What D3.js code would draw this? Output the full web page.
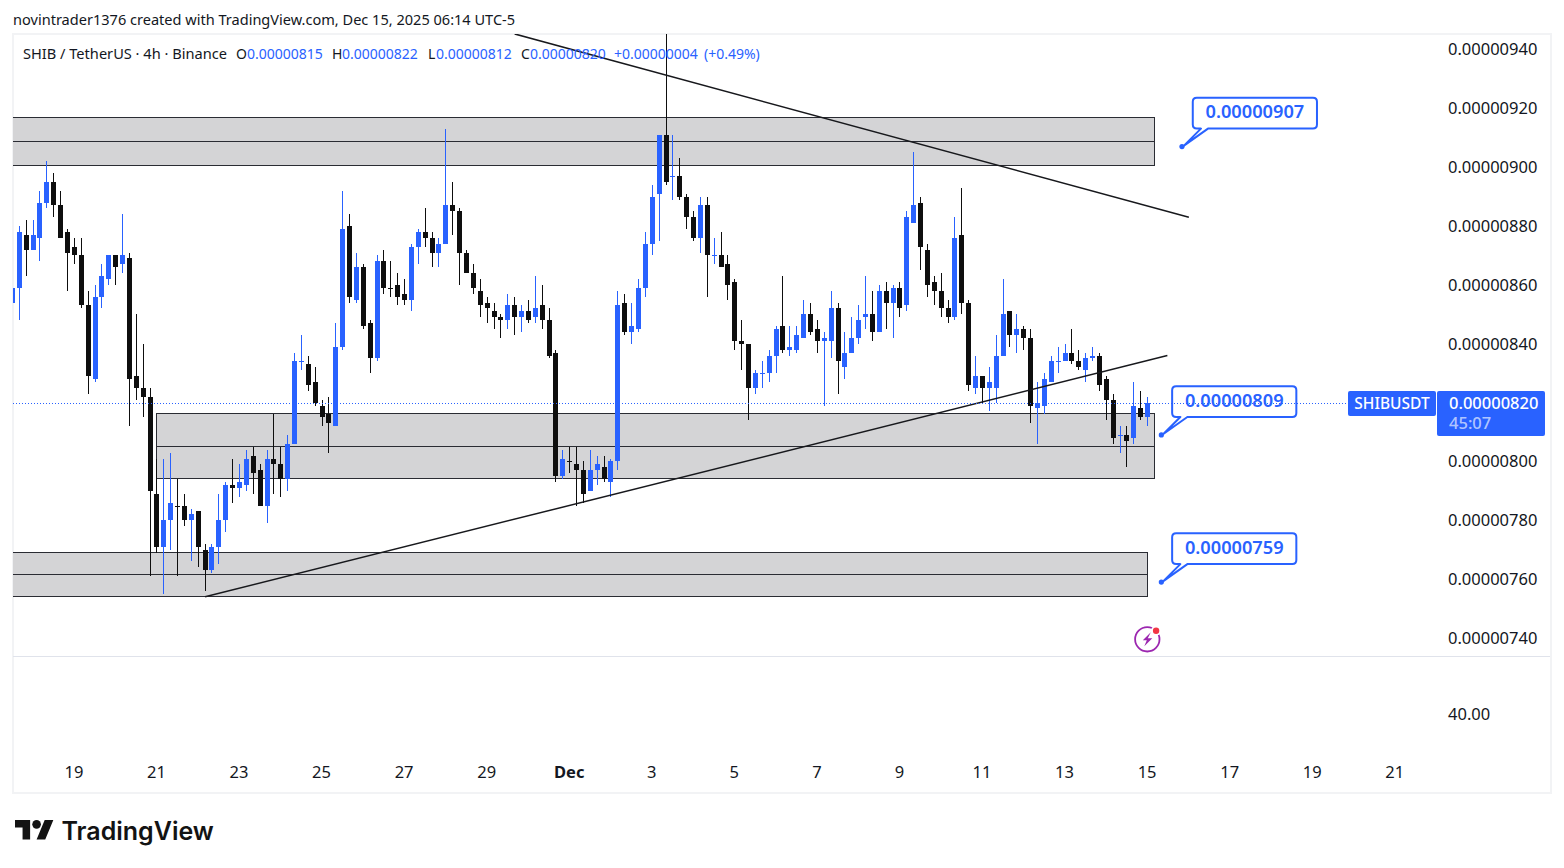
<!DOCTYPE html>
<html>
<head>
<meta charset="utf-8">
<script src="https://cdn.jsdelivr.net/npm/d3@7/dist/d3.min.js"></script>
<style>
  html, body { margin: 0; padding: 0; background: #fff; }
  svg { display: block; }
  text { font-family: "Noto Sans", sans-serif; }
</style>
</head>
<body>
<svg id="chart" width="1564" height="868"></svg>
<script>
// SHIB/USDT 4h candles, prices in units of 0.00000001
const opens = [
  854,859,877,872,876,888,895,887,878,873,
  870,853,828,856,862,870,867,869,829,825,
  822,789,771,780,785,785,780,783,770,763,
  771,780,792,791,792,802,797,785,801,799,
  794,806,834,833,827,819,816,812,839,880,
  855,866,847,835,868,859,860,857,855,873,
  878,876,871,874,887,885,871,864,858,854,
  851,849,848,853,849,851,849,853,848,837,
  795,800,799,797,790,797,798,793,800,854,
  844,845,859,874,891,911,897,897,890,883,
  876,887,870,870,867,861,841,840,825,830,
  830,836,846,838,838,842,850,845,841,841,
  852,832,837,842,849,850,844,858,854,859,
  853,881,888,872,861,858,852,849,877,854,
  825,829,825,825,836,851,843,845,842,818,
  819,827,834,834,837,834,831,835,836,828,
  821,809,809,808,818,815];
const closes = [
  859,878,872,877,888,895,887,876,871,870,
  853,829,856,863,870,866,870,828,825,822,
  790,771,780,786,784.9,780,782,771,763,771,
  780,792,791,793,801,796,785,801,799,794,
  806,834,834.1,826,820,815,813,839,879,856,
  866,846,835,868,859,858.9,856,855,873,878,
  876,871,874,887,885,871,864,859,853,852,
  849,848,853,849,851,848,852,848,836,795,
  801,799.9,797,789,797,799,794,800,853,844,
  846,859,874,890,911,895,897.1,890,883,876,
  887,870,870.1,866,860,841,840,825,830,830.1,
  836,845,838,839,843,850,844,841,842,852,
  834,837,842,848,850,844,858,854,859,852,
  883,887,873,860,858,852,849,876,854,826,
  829,825,827,836,850,843,845,842,819,820,
  828,834,834.1,837,834,832,835,836,826,821,
  808,809.1,807,819,815,820];
const highs = [
  859,880,882,882,892,902,898,892,879,876,
  876,858,860,867,870,870,884,871,850,840,
  825,801,801,803,794,789,784,783,772,772,
  789,793,801,799,804,805,799,804,816,805,
  809,837,843,836,832,821,822,847,892,884,
  871,867,848,870,872,868,864,862,874,879,
  886,878,876,913,895,886,872,867,862,856,
  854,850,857,856,853,855,863,860,852,838,
  804,805,805,800,804,802,802,801,858,857,
  854,862,878,894,911,950,911,903,891,885,
  890,890,876,878,870,862,848,840,831,834,
  838,846,863,846,846,855,854,848,844,858,
  854,844,849,853,863,858,860,861,860,861,
  885,905,890,874,863,864,855,883,893,855,
  836,829,832,843,862,851,850,846,845,827,
  830,836,839,840,845,838,837,839,837,829,
  823,812,812,827,824,822];
const lows = [
  854,848,863,872,868,886,883,876,858,867,
  852,823,827,852,860,860,864,812,821,815,
  761,769,755,770,761,778,766,764,756,762,
  765,776,786,788,790,789,785,779,789,788,
  790,806,831,824,819,812,803,812,838,854,
  854,845,830,834,857,856,853,853,851,867,
  873,866,866,874,877,860,864,857,849,847,
  845,842,845,843,844,847,847,845,835,793,
  794,796,785,786,790,792,793,788,797,843,
  840,844,856,870,875,894,889,889,879,875,
  871,856,867,866,855,838,831,814,823,825,
  827,830,837,836,837,842,843,837,819,835,
  823,828,837,840,845,841,844,845,842,849,
  851,881,865,856,853,849,847,848,850,824,
  823,820,817,820,836,839,837,838,813,806,
  816,827,830,834,833,831,827,834,824,814,
  806,803,798,806,814,812];

const priceTicks = [940,920,900,880,860,840,820,800,780,760,740];
const dateTicks = ["2025-11-19","2025-11-21","2025-11-23","2025-11-25","2025-11-27","2025-11-29",
                   "2025-12-01","2025-12-03","2025-12-05","2025-12-07","2025-12-09","2025-12-11",
                   "2025-12-13","2025-12-15","2025-12-17","2025-12-19","2025-12-21"].map(d => new Date(d + "T00:00Z"));

// Supply/demand zones: top, middle and bottom price with their time span
const zoneFrom = ["2025-11-10T00:00Z","2025-11-21T00:00Z","2025-11-10T00:00Z"].map(d => new Date(d));
const zoneTo   = ["2025-12-15T04:00Z","2025-12-15T04:00Z","2025-12-15T00:00Z"].map(d => new Date(d));
const zoneTop  = [917,816.5,769.2];
const zoneMid  = [909,805.2,761.8];
const zoneLow  = [900.7,794.4,754.3];

// Trend lines
const trendTimes  = [["2025-11-29T16:00Z","2025-12-16T00:00Z"],["2025-11-22T04:00Z","2025-12-15T11:30Z"]];
const trendPrices = [[945.3,883],[754,836]];

// Price callouts
const calloutTimes  = ["2025-12-15T20:00Z","2025-12-15T08:00Z","2025-12-15T08:00Z"].map(d => new Date(d));
const calloutPrices = [907,809,759];

const lastOpen = 815, lastHigh = 822, lastLow = 812, lastClose = 820, lastChange = 4;
const unit = 1e-8;
const fmt = p => (p * unit).toFixed(8);

const BLUE = "#2962ff", INK = "#131722", CANDLE_DARK = "#0e0e0e";
const lastBar = new Date("2025-12-15T00:00Z");
const times = opens.map((_, i) => d3.utcHour.offset(lastBar, -4 * (opens.length - 1 - i)));

const x = d3.scaleUtc().domain([dateTicks[0], dateTicks[dateTicks.length - 1]]).range([74.38, 1395.24]);
const y = d3.scaleLinear().domain([940, 740]).range([49.5, 638]);
const yLower = d3.scaleLinear().domain([100, 0]).range([657, 752]);

const svg = d3.select("#chart");
svg.append("defs").append("clipPath").attr("id", "pane")
  .append("rect").attr("x", 13).attr("y", 34).attr("width", 1537).attr("height", 622);

// Outer frame and pane separator
svg.append("rect").attr("x", 13).attr("y", 34).attr("width", 1538).attr("height", 759)
  .attr("fill", "#fff").attr("stroke", "#f2f3f5").attr("stroke-width", 2);
svg.append("rect").attr("x", 13).attr("y", 656).attr("width", 1537).attr("height", 1).attr("fill", "#e0e3eb");

const pane = svg.append("g").attr("clip-path", "url(#pane)");

// Zones
const zones = pane.append("g").attr("shape-rendering", "crispEdges");
zoneTop.forEach((top, i) => {
  const x0 = Math.floor(x(zoneFrom[i])), x1 = Math.floor(x(zoneTo[i]));
  const yt = Math.round(y(top)) + .5, ym = Math.round(y(zoneMid[i])) + .5, yb = Math.round(y(zoneLow[i])) + .5;
  zones.append("rect").attr("x", x0 + .5).attr("y", yt).attr("width", x1 - x0).attr("height", yb - yt)
    .attr("fill", "#d4d4d6").attr("stroke", "#2a2c33").attr("stroke-width", 1);
  zones.append("line").attr("x1", x0).attr("x2", x1).attr("y1", ym).attr("y2", ym)
    .attr("stroke", "#2a2c33").attr("stroke-width", 1);
});

// Candles
const candles = pane.append("g").attr("shape-rendering", "crispEdges");
const colOf = i => Math.floor(x(times[i]));
const colour = i => closes[i] >= opens[i] ? BLUE : CANDLE_DARK;
candles.selectAll("rect.wick").data(d3.range(opens.length)).join("rect").attr("class", "wick")
  .attr("x", colOf).attr("width", 1)
  .attr("y", i => Math.round(y(highs[i])))
  .attr("height", i => Math.max(1, Math.round(y(lows[i])) - Math.round(y(highs[i]))))
  .attr("fill", colour);
candles.selectAll("rect.body").data(d3.range(opens.length)).join("rect").attr("class", "body")
  .attr("x", i => colOf(i) - 2).attr("width", 5)
  .attr("y", i => Math.round(y(Math.max(opens[i], closes[i]))))
  .attr("height", i => Math.max(1, Math.round(y(Math.min(opens[i], closes[i]))) - Math.round(y(Math.max(opens[i], closes[i])))))
  .attr("fill", colour);

// Trend lines
trendTimes.forEach((t, i) => {
  pane.append("line")
    .attr("x1", x(new Date(t[0]))).attr("y1", y(trendPrices[i][0]))
    .attr("x2", x(new Date(t[1]))).attr("y2", y(trendPrices[i][1]))
    .attr("stroke", "#17181c").attr("stroke-width", 1.5);
});

// Callouts: speech-bubble box anchored on a price point
const callouts = svg.append("g");
calloutPrices.forEach((p, i) => {
  const tx = x(calloutTimes[i]), ty = y(p);
  const l = tx + 10.8, r = tx + 135, t = ty - 48.8, b = ty - 18, c = 4;
  const path = `M${l + c},${t} H${r - c} Q${r},${t} ${r},${t + c} V${b - c} Q${r},${b} ${r - c},${b}`
    + ` H${tx + 26} L${tx + 2},${ty - 1} L${tx + 19},${b} H${l + c} Q${l},${b} ${l},${b - c} V${t + c} Q${l},${t} ${l + c},${t} Z`;
  callouts.append("path").attr("d", path).attr("fill", "#fff").attr("stroke", BLUE).attr("stroke-width", 2)
    .attr("stroke-linejoin", "round");
  callouts.append("circle").attr("cx", tx).attr("cy", ty).attr("r", 2.6).attr("fill", BLUE);
  callouts.append("text").attr("x", (l + r) / 2).attr("y", (t + b) / 2 - 2)
    .attr("text-anchor", "middle").attr("dominant-baseline", "central")
    .attr("fill", BLUE).attr("font-size", 18.2).attr("font-weight", 600).text(fmt(p));
});

// Last-price dotted line
svg.append("line").attr("x1", 13).attr("x2", 1348).attr("y1", Math.round(y(lastClose)) + .5).attr("y2", Math.round(y(lastClose)) + .5)
  .attr("stroke", BLUE).attr("stroke-width", 1).attr("stroke-dasharray", "1 2").attr("shape-rendering", "crispEdges");

// Price axis
const priceAxis = d3.axisRight(y).tickValues(priceTicks).tickSize(0).tickPadding(0).tickFormat(fmt);
const gPrice = svg.append("g").attr("transform", "translate(1448,-0.5)").call(priceAxis);
gPrice.select(".domain").remove();
gPrice.selectAll("text").attr("fill", INK).attr("font-size", 16.5).attr("dy", "0.35em")
  .attr("font-family", '"Noto Sans", sans-serif');

const lowerAxis = d3.axisRight(yLower).tickValues([40]).tickSize(0).tickPadding(0).tickFormat(d3.format(".2f"));
const gLower = svg.append("g").attr("transform", "translate(1448,0)").call(lowerAxis);
gLower.select(".domain").remove();
gLower.selectAll("text").attr("fill", INK).attr("font-size", 16.5).attr("dy", "0.35em")
  .attr("font-family", '"Noto Sans", sans-serif');

// Time axis
const timeAxis = d3.axisBottom(x).tickValues(dateTicks).tickSize(0).tickPadding(0)
  .tickFormat(d => d.getUTCDate() === 1 ? "Dec" : d3.utcFormat("%e")(d).trim());
const gTime = svg.append("g").attr("transform", "translate(-1,772)").call(timeAxis);
gTime.select(".domain").remove();
gTime.selectAll("text").attr("y", 0).attr("dy", "0.35em").attr("fill", INK).attr("font-size", 16.5)
  .attr("font-family", '"Noto Sans", sans-serif')
  .attr("font-weight", d => d.getUTCDate() === 1 ? 700 : 400);

// Last-price tags
const tagY = 391;
svg.append("rect").attr("x", 1348).attr("y", tagY).attr("width", 88).attr("height", 25).attr("rx", 2).attr("fill", BLUE);
svg.append("text").attr("x", 1392).attr("y", tagY + 12).attr("text-anchor", "middle").attr("dominant-baseline", "central")
  .attr("fill", "#fff").attr("font-size", 15.5).attr("font-weight", 500).text("SHIBUSDT");
svg.append("rect").attr("x", 1437).attr("y", tagY).attr("width", 108).attr("height", 45).attr("rx", 2).attr("fill", BLUE);
svg.append("text").attr("x", 1449).attr("y", tagY + 11.5).attr("dominant-baseline", "central")
  .attr("fill", "#fff").attr("font-size", 16.5).attr("font-weight", 500).text(fmt(lastClose));
svg.append("text").attr("x", 1449).attr("y", tagY + 31.5).attr("dominant-baseline", "central")
  .attr("fill", "#fff").attr("fill-opacity", .65).attr("font-size", 16.5).attr("font-weight", 500).text("45:07");

// Chart title lines
svg.append("text").attr("x", 13).attr("y", 25).attr("fill", INK).attr("font-size", 14.55)
  .text("novintrader1376 created with TradingView.com, Dec 15, 2025 06:14 UTC-5");

const legend = svg.append("g");
const legendParts = [
  [23, "SHIB / TetherUS · 4h · Binance", INK, 14.6],
  [236, "O", INK, 14], [247, fmt(lastOpen), BLUE, 14],
  [332, "H", INK, 14], [342, fmt(lastHigh), BLUE, 14],
  [428, "L", INK, 14], [436, fmt(lastLow), BLUE, 14],
  [521, "C", INK, 14], [530, fmt(lastClose), BLUE, 14],
  [614, `+${fmt(lastChange)}`, BLUE, 14],
  [704, `(+${(lastChange / lastOpen * 100).toFixed(2)}%)`, BLUE, 14]
];
legendParts.forEach(([px, s, col, size]) => legend.append("text").attr("x", px).attr("y", 59)
  .attr("fill", col).attr("font-size", size).text(s));

// Alert icon
const alert = svg.append("g").attr("transform", `translate(1147.3,639.3)`);
alert.append("circle").attr("r", 12.2).attr("fill", "#fff").attr("stroke", "#9c27b0").attr("stroke-width", 1.8);
alert.append("path").attr("d", "M3.5,-7 L-4.5,1 H-0.5 L-3,7 L5,-1 H0.5 Z").attr("fill", "#9c27b0");
alert.append("circle").attr("cx", 8.8).attr("cy", -8.6).attr("r", 5).attr("fill", "#fff");
alert.append("circle").attr("cx", 8.8).attr("cy", -8.6).attr("r", 3.2).attr("fill", "#f23645");

// Brand mark
const brand = svg.append("g").attr("transform", "translate(15,815.7) scale(1.08)").attr("fill", "#131313");
brand.append("path").attr("d", "M14 22H7V11H0V4h14v18zM28 22h-8l7.5-18h8L28 22z");
brand.append("circle").attr("cx", 20).attr("cy", 8).attr("r", 4);
svg.append("text").attr("x", 61.5).attr("y", 840).attr("fill", "#131313")
  .attr("font-size", 25).attr("font-weight", 600).style("font-family", "Inter, sans-serif").text("TradingView");
</script>
</body>
</html>
